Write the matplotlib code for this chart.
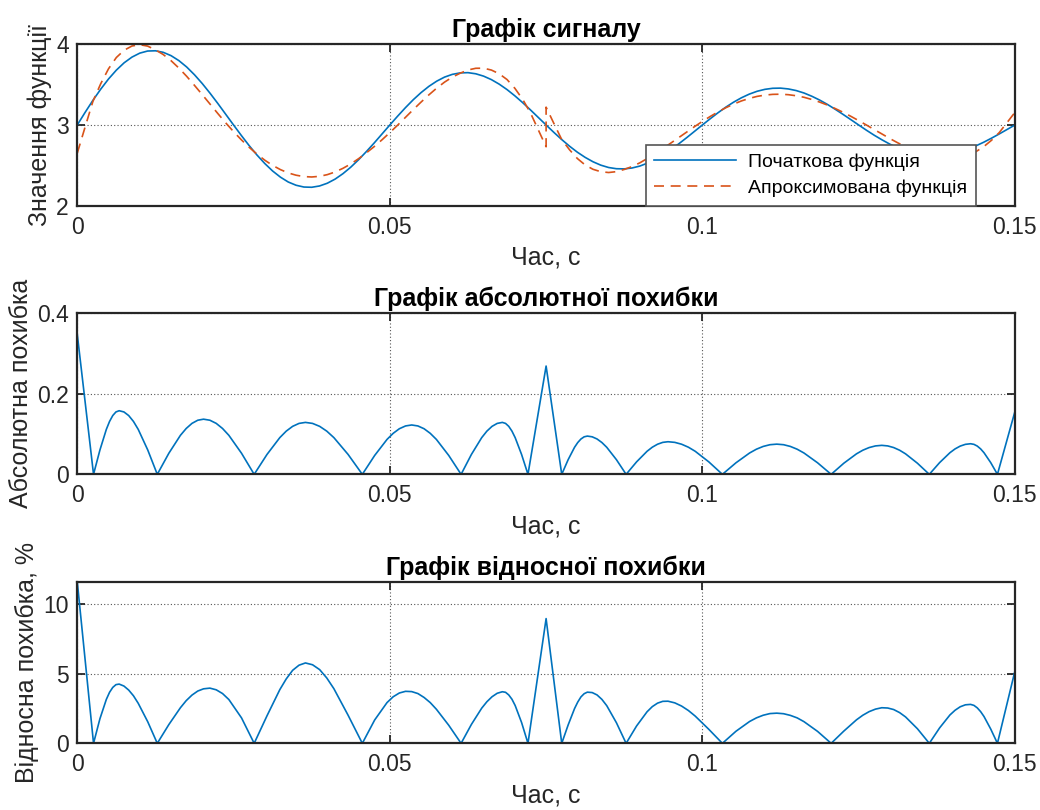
import numpy as np
import matplotlib
matplotlib.use("Agg")
import matplotlib.pyplot as plt

plt.rcParams['font.family'] = ['Liberation Sans', 'DejaVu Sans']

# ---- signal: original function sampled every 1.25 ms ----
t_signal = np.linspace(0, 0.15, 121)
original = [
    3.000, 3.155, 3.304, 3.442, 3.568, 3.677, 3.768, 3.838, 3.887, 3.913,
    3.916, 3.897, 3.856, 3.795, 3.716, 3.620, 3.511, 3.391, 3.264, 3.132,
    3.000, 2.870, 2.745, 2.629, 2.524, 2.432, 2.356, 2.296, 2.256, 2.234,
    2.231, 2.247, 2.281, 2.332, 2.399, 2.479, 2.571, 2.672, 2.778, 2.889,
    3.000, 3.109, 3.214, 3.312, 3.400, 3.477, 3.541, 3.591, 3.625, 3.643,
    3.646, 3.632, 3.603, 3.560, 3.504, 3.437, 3.360, 3.276, 3.186, 3.093,
    3.000, 2.908, 2.820, 2.738, 2.664, 2.600, 2.546, 2.504, 2.475, 2.460,
    2.458, 2.469, 2.493, 2.530, 2.577, 2.633, 2.698, 2.769, 2.844, 2.922,
    3.000, 3.077, 3.151, 3.220, 3.282, 3.336, 3.381, 3.416, 3.440, 3.453,
    3.455, 3.445, 3.425, 3.395, 3.355, 3.308, 3.254, 3.194, 3.131, 3.066,
    3.000, 2.935, 2.873, 2.816, 2.763, 2.718, 2.680, 2.651, 2.630, 2.619,
    2.618, 2.626, 2.643, 2.669, 2.702, 2.742, 2.787, 2.837, 2.890, 2.945,
    3.000,
]

# ---- approximation: two pieces, [0, 0.075] and [0.075, 0.15] ----
t_approx = np.concatenate([np.linspace(0, 0.075, 61), np.linspace(0.075, 0.15, 61)])
approx = [
    # first piece
    2.652, 2.974, 3.291, 3.509, 3.694, 3.833, 3.923, 3.975, 3.991, 3.974,
    3.928, 3.870, 3.794, 3.703, 3.601, 3.489, 3.374, 3.257, 3.140, 3.026,
    2.918, 2.817, 2.724, 2.640, 2.565, 2.501, 2.449, 2.408, 2.380, 2.363,
    2.358, 2.366, 2.387, 2.420, 2.465, 2.519, 2.584, 2.656, 2.733, 2.817,
    2.906, 2.998, 3.094, 3.190, 3.283, 3.372, 3.455, 3.529, 3.591, 3.639,
    3.679, 3.700, 3.701, 3.678, 3.632, 3.561, 3.453, 3.317, 3.149, 2.940,
    2.731,
    # second piece
    3.220, 3.018, 2.820, 2.694, 2.586, 2.506, 2.453, 2.423, 2.413, 2.424,
    2.451, 2.487, 2.533, 2.589, 2.649, 2.713, 2.779, 2.846, 2.913, 2.980,
    3.044, 3.105, 3.161, 3.213, 3.258, 3.297, 3.328, 3.353, 3.369, 3.378,
    3.380, 3.374, 3.361, 3.342, 3.315, 3.283, 3.246, 3.203, 3.157, 3.107,
    3.054, 2.999, 2.943, 2.888, 2.832, 2.780, 2.731, 2.687, 2.649, 2.620,
    2.597, 2.584, 2.584, 2.599, 2.626, 2.670, 2.732, 2.811, 2.907, 3.031,
    3.156,
]

# ---- errors ----
t_error = [
    0.0, 0.0026,
    0.003625, 0.00465, 0.005163, 0.005675, 0.006188, 0.0067,
    0.007463, 0.008225, 0.008988, 0.00975, 0.011275, 0.0128,
    0.01465, 0.0165, 0.017425, 0.01835, 0.019275, 0.0202,
    0.021213, 0.022225, 0.023238, 0.02425, 0.026275, 0.0283,
    0.03035, 0.0324, 0.033425, 0.03445, 0.035475, 0.0365,
    0.037638, 0.038775, 0.039913, 0.04105, 0.043325, 0.0456,
    0.047575, 0.04955, 0.050538, 0.051525, 0.052513, 0.0535,
    0.054488, 0.055475, 0.056463, 0.05745, 0.059425, 0.0614,
    0.06305, 0.0647, 0.065525, 0.06635, 0.067175, 0.0680,
    0.068513, 0.069025, 0.069538, 0.07005, 0.071075, 0.0721,
    0.075, 0.0775,
    0.078525, 0.07955, 0.080063, 0.080575, 0.081088, 0.0816,
    0.082375, 0.08315, 0.083925, 0.0847, 0.08625, 0.0878,
    0.089475, 0.09115, 0.091988, 0.092825, 0.093663, 0.0945,
    0.095588, 0.096675, 0.097763, 0.09885, 0.101025, 0.1032,
    0.105375, 0.10755, 0.108638, 0.109725, 0.110813, 0.1119,
    0.112988, 0.114075, 0.115163, 0.11625, 0.118425, 0.1206,
    0.122625, 0.12465, 0.125663, 0.126675, 0.127688, 0.1287,
    0.12965, 0.1306, 0.13155, 0.1325, 0.1344, 0.1363,
    0.13795, 0.1396, 0.140425, 0.14125, 0.142075, 0.1429,
    0.143438, 0.143975, 0.144513, 0.14505, 0.146125, 0.1472,
    0.15,
]
abs_error = [
    0.348, 0.0,
    0.0605, 0.1117, 0.1314, 0.1460, 0.1550, 0.158, 0.1550, 0.1460, 0.1314, 0.1117, 0.0605, 0.0,
    0.0524, 0.0969, 0.1139, 0.1266, 0.1344, 0.137, 0.1344, 0.1266, 0.1139, 0.0969, 0.0524, 0.0,
    0.0494, 0.0912, 0.1073, 0.1192, 0.1265, 0.129, 0.1265, 0.1192, 0.1073, 0.0912, 0.0494, 0.0,
    0.0469, 0.0867, 0.1019, 0.1133, 0.1202, 0.1226, 0.1202, 0.1133, 0.1019, 0.0867, 0.0469, 0.0,
    0.0494, 0.0912, 0.1073, 0.1192, 0.1265, 0.129, 0.1265, 0.1192, 0.1073, 0.0912, 0.0494, 0.0,
    0.269, 0.0,
    0.0364, 0.0672, 0.0790, 0.0878, 0.0932, 0.095, 0.0932, 0.0878, 0.0790, 0.0672, 0.0364, 0.0,
    0.0310, 0.0573, 0.0674, 0.0748, 0.0794, 0.081, 0.0794, 0.0748, 0.0674, 0.0573, 0.0310, 0.0,
    0.0287, 0.0530, 0.0624, 0.0693, 0.0736, 0.075, 0.0736, 0.0693, 0.0624, 0.0530, 0.0287, 0.0,
    0.0276, 0.0509, 0.0599, 0.0665, 0.0706, 0.072, 0.0706, 0.0665, 0.0599, 0.0509, 0.0276, 0.0,
    0.0291, 0.0537, 0.0632, 0.0702, 0.0745, 0.076, 0.0745, 0.0702, 0.0632, 0.0537, 0.0291, 0.0,
    0.156,
]
rel_error = [
    11.62, 0.0,
    1.77, 3.16, 3.67, 4.02, 4.22, 4.26, 4.12, 3.83, 3.42, 2.88, 1.55, 0.0,
    1.35, 2.56, 3.07, 3.47, 3.76, 3.92, 3.97, 3.85, 3.58, 3.15, 1.83, 0.0,
    1.98, 3.86, 4.63, 5.25, 5.62, 5.78, 5.65, 5.30, 4.70, 3.93, 2.02, 0.0,
    1.68, 2.93, 3.35, 3.62, 3.74, 3.72, 3.58, 3.30, 2.93, 2.45, 1.30, 0.0,
    1.36, 2.53, 2.99, 3.35, 3.60, 3.71, 3.67, 3.48, 3.17, 2.72, 1.50, 0.0,
    8.97, 0.0,
    1.32, 2.50, 2.97, 3.34, 3.57, 3.68, 3.65, 3.48, 3.16, 2.71, 1.48, 0.0,
    1.25, 2.27, 2.64, 2.89, 3.02, 3.03, 2.91, 2.68, 2.36, 1.96, 1.01, 0.0,
    0.87, 1.57, 1.83, 2.02, 2.14, 2.17, 2.13, 2.01, 1.83, 1.56, 0.86, 0.0,
    0.88, 1.69, 2.02, 2.28, 2.46, 2.56, 2.54, 2.43, 2.21, 1.90, 1.05, 0.0,
    1.11, 2.04, 2.38, 2.63, 2.77, 2.80, 2.73, 2.55, 2.28, 1.93, 1.03, 0.0,
    5.20,
]

x_ticks = [0, 0.05, 0.1, 0.15]
x_tick_labels = ['0', '0.05', '0.1', '0.15']
sig_ticks = [2, 3, 4]
abs_ticks = [0, 0.2, 0.4]
abs_tick_labels = ['0', '0.2', '0.4']
rel_ticks = [0, 5, 10]

titles = ['Графік сигналу', 'Графік абсолютної похибки', 'Графік відносної похибки']
ylabels = ['Значення функції', 'Абсолютна похибка', 'Відносна похибка, %']
xlabel = 'Час, с'
legend_labels = ['Початкова функція', 'Апроксимована функція']

BLUE = '#0072BD'
ORANGE = '#D95319'
INK = '#262626'
TICK_FS = 16.5
LABEL_FS = 18
TITLE_FS = 18

fig = plt.figure(figsize=(10.4, 8.1), dpi=100)
ax1 = fig.add_axes([0.0743, 0.7457, 0.9016, 0.2000])
ax2 = fig.add_axes([0.0743, 0.4144, 0.9016, 0.1988])
ax3 = fig.add_axes([0.0743, 0.0823, 0.9016, 0.1995])


def style(ax, title, ylabel):
    ax.set_xlim(0, 0.15)
    ax.set_xticks(x_ticks)
    ax.set_xticklabels(x_tick_labels)
    ax.grid(True, linestyle=(0, (1, 2)), color='#555555', linewidth=0.8)
    ax.tick_params(direction='in', length=6, width=1.3, top=True, right=True,
                   colors=INK, labelsize=TICK_FS)
    ax.tick_params(axis='x', pad=7)
    ax.tick_params(axis='y', pad=6)
    for sp in ax.spines.values():
        sp.set_linewidth(1.6)
        sp.set_color(INK)
    ax.set_title(title, fontsize=TITLE_FS, fontweight='bold', pad=5)
    ax.set_xlabel(xlabel, fontsize=LABEL_FS, color=INK, labelpad=5)
    ax.set_ylabel(ylabel, fontsize=LABEL_FS, color=INK, labelpad=3)
    ax.set_axisbelow(True)


ax1.plot(t_signal, original, color=BLUE, linewidth=1.2, label=legend_labels[0])
ax1.plot(t_approx, approx, color=ORANGE, linewidth=1.2, linestyle=(0, (6, 4)),
         label=legend_labels[1])
ax1.set_ylim(2, 4)
ax1.set_yticks(sig_ticks)
style(ax1, titles[0], ylabels[0])
leg = ax1.legend(loc='lower right', bbox_to_anchor=(0.958, 0.0), borderaxespad=0.0,
                 fontsize=14, handlelength=4.2, fancybox=False, framealpha=1,
                 edgecolor='#555555', borderpad=0.45, labelspacing=0.45,
                 handletextpad=0.6)
leg.get_frame().set_linewidth(1.2)

ax2.plot(t_error, abs_error, color=BLUE, linewidth=1.2)
ax2.set_ylim(0, 0.4)
ax2.set_yticks(abs_ticks)
ax2.set_yticklabels(abs_tick_labels)
style(ax2, titles[1], ylabels[1])

ax3.plot(t_error, rel_error, color=BLUE, linewidth=1.2)
ax3.set_ylim(0, max(rel_error))
ax3.set_yticks(rel_ticks)
style(ax3, titles[2], ylabels[2])

fig.savefig('out.png', dpi=100)
